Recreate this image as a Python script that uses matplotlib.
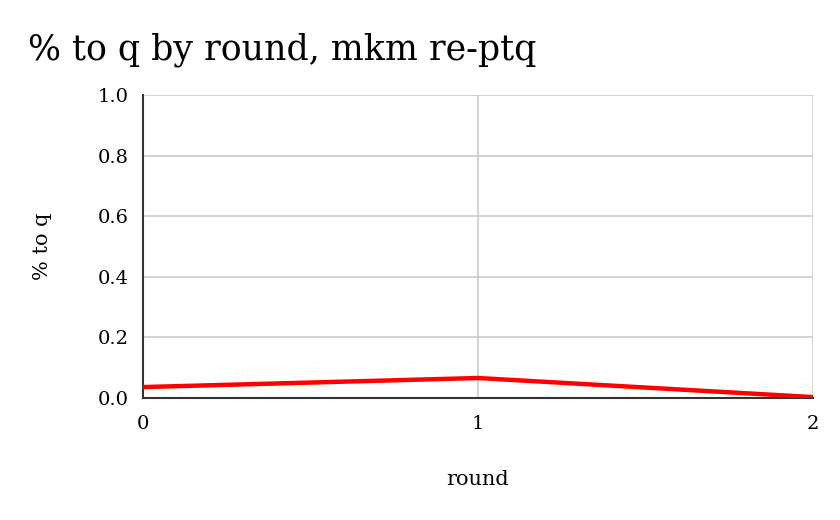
import matplotlib.pyplot as plt

rounds = [0, 1, 2]
pct_to_q = [0.036, 0.066, 0.003]
y_ticks = [0.0, 0.2, 0.4, 0.6, 0.8, 1.0]

plt.rcParams['font.family'] = ['DejaVu Serif']

fig = plt.figure(figsize=(8.4, 5.2), dpi=100)
ax = fig.add_axes([0.170, 0.2346, 0.798, 0.5827])

ax.plot(rounds, pct_to_q, color='#ff0000', linewidth=3.2, solid_capstyle='butt', zorder=3)

ax.set_xlim(0, 2)
ax.set_ylim(0, 1)
ax.set_xticks(rounds)
ax.set_yticks(y_ticks)
ax.set_yticklabels([f'{v:.1f}' for v in y_ticks])
ax.grid(True, color='#cccccc', linewidth=1.2)
ax.set_axisbelow(True)

for side in ['top', 'right']:
    ax.spines[side].set_visible(False)
for side in ['left', 'bottom']:
    ax.spines[side].set_color('#333333')
    ax.spines[side].set_linewidth(1.5)
ax.tick_params(axis='both', length=0, labelsize=14, colors='#000000')
ax.tick_params(axis='x', pad=12)
ax.tick_params(axis='y', pad=10)

ax.set_xlabel('round', fontsize=15, labelpad=27)
ax.set_ylabel('% to q', fontsize=15, labelpad=33)

fig.text(0.033, 0.905, '% to q by round, mkm re-ptq', fontsize=25, ha='left', va='center')

fig.savefig('out.png', dpi=100)
